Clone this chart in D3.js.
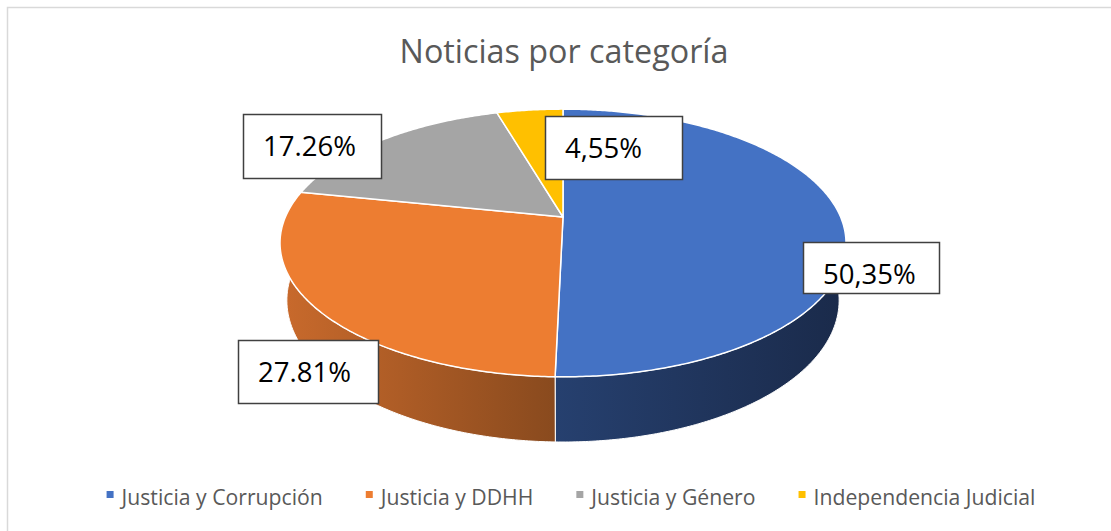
<!DOCTYPE html>
<html>
<head>
<meta charset="utf-8">
<script src="https://cdn.jsdelivr.net/npm/d3@7"></script>
<style>
  body { margin: 0; background: #fff; }
  text { font-family: "Open Sans", "Noto Sans", sans-serif; }
</style>
</head>
<body>
<div id="chart"></div>
<script>
// data
const categories = ["Justicia y Corrupción", "Justicia y DDHH", "Justicia y Género", "Independencia Judicial"];
const shares = [50.35, 27.81, 17.26, 4.55];
const labelTexts = ["50,35%", "27.81%", "17.26%", "4,55%"];
const title = "Noticias por categoría";

const topColors = ["#4472c4", "#ed7d31", "#a5a5a5", "#ffc000"];
const sideColors = [["#26406f", "#1a2a4a"], ["#c96a2c", "#894a1e"], ["#8a8a8a", "#5e5e5e"], ["#d9a300", "#a07800"]];

// label boxes as placed in the sheet (layout only)
const labelBoxes = [
    { x: 803, y: 242, w: 136, h: 51 },
    { x: 238, y: 340, w: 140, h: 63 },
    { x: 243, y: 114, w: 138, h: 64 },
    { x: 545, y: 116, w: 137, h: 63 }
];

const width = 1111, height = 531;

const svg = d3.select("#chart")
    .append("svg")
    .attr("width", width)
    .attr("height", height);

const defs = svg.append("defs");

// chart area border (runs off the right / bottom edge)
svg.append("rect")
    .attr("x", 7.5).attr("y", 7.5)
    .attr("width", width + 20).attr("height", height + 20)
    .attr("fill", "none")
    .attr("stroke", "#d9d9d9")
    .attr("stroke-width", 1.5);

// title
const titleText = svg.append("text")
    .attr("x", 564)
    .attr("y", 63)
    .attr("text-anchor", "middle")
    .attr("font-size", 32)
    .attr("fill", "#595959")
    .text(title);
fitWidth(titleText, 329);

// simple perspective camera for the 3D pie
const cam = { cx: 563, cy: 217, f: 1267.6, dist: 1, r: 0.219, depth: 0.0516, tilt: Math.asin(0.464) };

function project(theta, y, rad) {
    const r = rad === undefined ? cam.r : rad;
    const X = r * Math.sin(theta), Z = r * Math.cos(theta);
    const s = Math.sin(cam.tilt), c = Math.cos(cam.tilt);
    const yc = y * c + Z * s;
    const zc = cam.dist + Z * c - y * s;
    return [cam.cx + cam.f * X / zc, cam.cy - cam.f * yc / zc];
}

function arcPoints(a0, a1, y) {
    const n = Math.max(2, Math.ceil((a1 - a0) / 0.01));
    return d3.range(n + 1).map(i => project(a0 + (a1 - a0) * i / n, y));
}

const pie = d3.pie().sort(null).value(d => d);
const arcs = pie(shares);
const line = d3.line();

const pieGroup = svg.append("g").attr("class", "pie");

// side walls, only the front half faces the viewer
const frontStart = Math.PI / 2, frontEnd = 3 * Math.PI / 2;
arcs.forEach((d, i) => {
    const a0 = Math.max(d.startAngle, frontStart);
    const a1 = Math.min(d.endAngle, frontEnd);
    if (a1 <= a0) return;

    const top = arcPoints(a0, a1, 0);
    const bottom = arcPoints(a0, a1, -cam.depth).reverse();
    const xs = top.map(p => p[0]);
    const gid = "side" + i;
    const grad = defs.append("linearGradient")
        .attr("id", gid)
        .attr("gradientUnits", "userSpaceOnUse")
        .attr("x1", d3.min(xs)).attr("x2", d3.max(xs))
        .attr("y1", 0).attr("y2", 0);
    grad.append("stop").attr("offset", 0).attr("stop-color", sideColors[i][0]);
    grad.append("stop").attr("offset", 1).attr("stop-color", sideColors[i][1]);

    pieGroup.append("path")
        .attr("d", line(top.concat(bottom)) + "Z")
        .attr("fill", `url(#${gid})`)
        .attr("stroke", "#ffffff")
        .attr("stroke-width", 1)
        .attr("stroke-linejoin", "round");
});

// top faces
const centre = project(0, 0, 0);
pieGroup.selectAll(".slice")
    .data(arcs)
    .enter()
    .append("path")
    .attr("class", "slice")
    .attr("d", d => line([centre].concat(arcPoints(d.startAngle, d.endAngle, 0))) + "Z")
    .attr("fill", (d, i) => topColors[i])
    .attr("stroke", "#ffffff")
    .attr("stroke-width", 1.5)
    .attr("stroke-linejoin", "round");

// data labels
const labels = svg.append("g").attr("class", "labels");
labelBoxes.forEach((b, i) => {
    labels.append("rect")
        .attr("x", b.x + 0.5).attr("y", b.y + 0.5)
        .attr("width", b.w).attr("height", b.h)
        .attr("fill", "#ffffff")
        .attr("stroke", "#404040")
        .attr("stroke-width", 1.5);
});
const labelText = labels.selectAll(".lbl")
    .data(labelTexts)
    .enter()
    .append("text")
    .attr("class", "lbl")
    .attr("x", (d, i) => labelBoxes[i].x + 20)
    .attr("y", (d, i) => labelBoxes[i].y + 42)
    .attr("font-size", 27)
    .attr("fill", "#000000")
    .text(d => d);
fitWidth(labelText.filter((d, i) => i === 2), 93);
labelText.attr("font-size", labelText.filter((d, i) => i === 2).attr("font-size"));

// legend
const legend = svg.append("g").attr("class", "legend");
const items = legend.selectAll(".item")
    .data(categories)
    .enter()
    .append("g")
    .attr("class", "item");
items.append("rect")
    .attr("width", 7).attr("height", 7)
    .attr("y", 491)
    .attr("fill", (d, i) => topColors[i]);
const legendText = items.append("text")
    .attr("x", 15)
    .attr("y", 505)
    .attr("font-size", 20)
    .attr("fill", "#595959")
    .text(d => d);
fitWidth(legendText.filter((d, i) => i === 3), 222);
legendText.attr("font-size", legendText.filter((d, i) => i === 3).attr("font-size"));

const gap = 43;
const widths = legendText.nodes().map(n => 15 + n.getComputedTextLength());
const total = d3.sum(widths) + gap * (widths.length - 1);
let xPos = 571 - total / 2;
items.each(function (d, i) {
    d3.select(this).attr("transform", `translate(${xPos},0)`);
    xPos += widths[i] + gap;
});

function fitWidth(sel, target) {
    const node = sel.node();
    const w = node.getComputedTextLength();
    const fs = parseFloat(sel.attr("font-size"));
    sel.attr("font-size", (fs * target / w).toFixed(2));
}
</script>
</body>
</html>
